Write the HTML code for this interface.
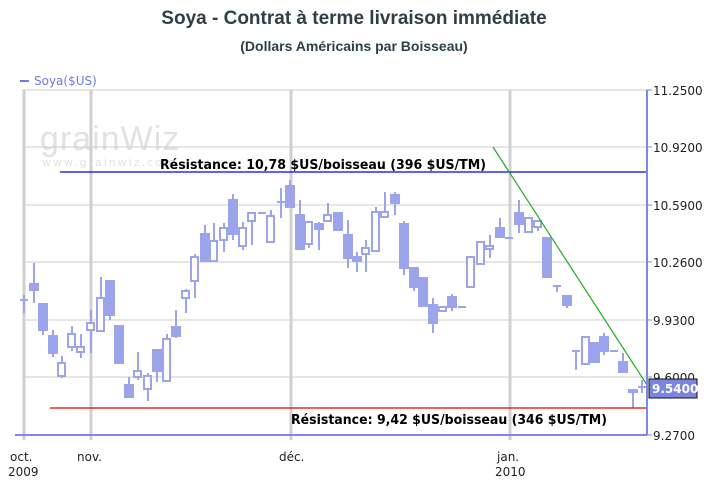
<!DOCTYPE html>
<html><head><meta charset="utf-8"><style>
body{margin:0;background:#fff}
svg{display:block}
</style></head><body>
<svg width="709" height="497" viewBox="0 0 709 497" xmlns="http://www.w3.org/2000/svg" font-family="'DejaVu Sans', 'Liberation Sans', sans-serif">
<text x="354" y="24" text-anchor="middle" font-family="'Liberation Sans',sans-serif" font-weight="bold" font-size="19" fill="#2f3f4a">Soya - Contrat à terme livraison immédiate</text>
<text x="354" y="51" text-anchor="middle" font-family="'Liberation Sans',sans-serif" font-weight="bold" font-size="14" fill="#2f3f4a">(Dollars Américains par Boisseau)</text>
<line x1="20" y1="81" x2="29" y2="81" stroke="#6b7be6" stroke-width="2"/>
<text x="34" y="85" font-size="12" fill="#6b7be6">Soya($US)</text>
<text x="40" y="150" font-size="34" fill="#e2e2e2" font-family="'Liberation Sans',sans-serif" letter-spacing="1">grainWiz</text>
<text x="42" y="166" font-size="11" fill="#e2e2e2" letter-spacing="2">www.grainwiz.com</text>
<g stroke="#cccccc" stroke-width="1">
<line x1="22" y1="90" x2="647" y2="90"/><line x1="22" y1="147" x2="647" y2="147"/>
<line x1="22" y1="205" x2="647" y2="205"/><line x1="22" y1="262" x2="647" y2="262"/>
<line x1="22" y1="320" x2="647" y2="320"/><line x1="22" y1="377" x2="647" y2="377"/>
</g>
<g stroke="#d0d0d0" stroke-width="3">
<line x1="24" y1="90" x2="24" y2="440"/><line x1="91" y1="90" x2="91" y2="440"/>
<line x1="291" y1="90" x2="291" y2="440"/><line x1="510" y1="90" x2="510" y2="440"/>
</g>
<g stroke="#9ca5ec" stroke-width="2" fill="#fff">
<line x1="24" y1="295" x2="24" y2="313"/><line x1="20" y1="300" x2="28" y2="300"/>
<line x1="34" y1="263" x2="34" y2="303"/><rect x="30" y="284" width="8" height="6" fill="#9ca5ec"/>
<line x1="43" y1="304" x2="43" y2="335"/><rect x="39" y="304" width="8" height="26" fill="#9ca5ec"/>
<line x1="53" y1="330" x2="53" y2="357"/><rect x="49" y="336" width="8" height="17" fill="#9ca5ec"/>
<line x1="62" y1="356" x2="62" y2="378"/><rect x="58" y="363" width="7" height="13"/>
<line x1="72" y1="326" x2="72" y2="351"/><rect x="68" y="334" width="7" height="13"/>
<line x1="81" y1="334" x2="81" y2="358"/><rect x="77" y="347" width="7" height="5"/>
<line x1="91" y1="310" x2="91" y2="353"/><rect x="87" y="323" width="7" height="7"/>
<line x1="101" y1="277" x2="101" y2="331"/><rect x="97" y="298" width="7" height="33"/>
<line x1="110" y1="281" x2="110" y2="320"/><rect x="106" y="281" width="8" height="34" fill="#9ca5ec"/>
<rect x="115" y="326" width="8" height="37" fill="#9ca5ec"/>
<line x1="129" y1="377" x2="129" y2="397"/><rect x="125" y="385" width="8" height="12" fill="#9ca5ec"/>
<line x1="138" y1="352" x2="138" y2="380"/><rect x="134" y="371" width="7" height="6"/>
<line x1="148" y1="373" x2="148" y2="401"/><rect x="144" y="376" width="7" height="13"/>
<line x1="157" y1="350" x2="157" y2="382"/><rect x="153" y="350" width="8" height="21" fill="#9ca5ec"/>
<line x1="167" y1="334" x2="167" y2="381"/><rect x="163" y="339" width="7" height="42"/>
<line x1="176" y1="310" x2="176" y2="338"/><rect x="172" y="327" width="8" height="9" fill="#9ca5ec"/>
<line x1="186" y1="289" x2="186" y2="313"/><rect x="182" y="291" width="7" height="7"/>
<line x1="195" y1="254" x2="195" y2="298"/><rect x="191" y="257" width="7" height="24"/>
<line x1="205" y1="225" x2="205" y2="261"/><rect x="201" y="234" width="8" height="27" fill="#9ca5ec"/>
<line x1="214" y1="223" x2="214" y2="261"/><rect x="210" y="241" width="7" height="20"/>
<line x1="224" y1="223" x2="224" y2="252"/><rect x="220" y="228" width="7" height="12"/>
<line x1="233" y1="194" x2="233" y2="240"/><rect x="229" y="200" width="8" height="34" fill="#9ca5ec"/>
<line x1="243" y1="222" x2="243" y2="250"/><rect x="239" y="228" width="7" height="18"/>
<line x1="252" y1="213" x2="252" y2="245"/><rect x="248" y="213" width="7" height="8"/>
<line x1="258" y1="213" x2="266" y2="213"/>
<line x1="271" y1="210" x2="271" y2="242"/><rect x="267" y="216" width="7" height="26"/>
<line x1="281" y1="188" x2="281" y2="218"/><line x1="277" y1="202" x2="285" y2="202"/>
<line x1="290" y1="180" x2="290" y2="207"/><rect x="286" y="186" width="8" height="21" fill="#9ca5ec"/>
<line x1="300" y1="200" x2="300" y2="249"/><rect x="296" y="215" width="8" height="34" fill="#9ca5ec"/>
<line x1="309" y1="222" x2="309" y2="248"/><rect x="305" y="222" width="7" height="22"/>
<line x1="319" y1="222" x2="319" y2="250"/><rect x="315" y="224" width="8" height="5" fill="#9ca5ec"/>
<line x1="328" y1="203" x2="328" y2="221"/><rect x="324" y="215" width="7" height="6"/>
<rect x="334" y="213" width="8" height="17" fill="#9ca5ec"/>
<line x1="348" y1="220" x2="348" y2="268"/><rect x="344" y="235" width="8" height="23" fill="#9ca5ec"/>
<line x1="357" y1="252" x2="357" y2="272"/><rect x="353" y="257" width="8" height="4" fill="#9ca5ec"/>
<line x1="366" y1="240" x2="366" y2="272"/><rect x="362" y="248" width="7" height="6"/>
<line x1="376" y1="207" x2="376" y2="251"/><rect x="372" y="212" width="7" height="39"/>
<line x1="385" y1="192" x2="385" y2="217"/><rect x="381" y="212" width="7" height="5"/>
<line x1="395" y1="192" x2="395" y2="215"/><rect x="391" y="195" width="8" height="8" fill="#9ca5ec"/>
<line x1="404" y1="221" x2="404" y2="275"/><rect x="400" y="224" width="8" height="44" fill="#9ca5ec"/>
<line x1="414" y1="268" x2="414" y2="291"/><rect x="410" y="268" width="8" height="19" fill="#9ca5ec"/>
<rect x="419" y="278" width="8" height="28" fill="#9ca5ec"/>
<line x1="433" y1="298" x2="433" y2="333"/><rect x="429" y="305" width="8" height="18" fill="#9ca5ec"/>
<rect x="439" y="307" width="7" height="4"/>
<line x1="452" y1="294" x2="452" y2="311"/><rect x="448" y="297" width="8" height="10" fill="#9ca5ec"/>
<line x1="458" y1="307" x2="466" y2="307"/>
<rect x="467" y="257" width="7" height="30"/>
<rect x="477" y="242" width="7" height="22"/>
<line x1="490" y1="235" x2="490" y2="258"/><rect x="486" y="246" width="7" height="3"/>
<line x1="500" y1="218" x2="500" y2="237"/><rect x="496" y="228" width="8" height="9" fill="#9ca5ec"/>
<line x1="505" y1="238" x2="513" y2="238"/>
<line x1="519" y1="200" x2="519" y2="233"/><rect x="515" y="213" width="8" height="11" fill="#9ca5ec"/>
<rect x="525" y="218" width="7" height="14"/>
<line x1="538" y1="221" x2="538" y2="231"/><rect x="534" y="221" width="7" height="6"/>
<rect x="543" y="238" width="8" height="39" fill="#9ca5ec"/>
<line x1="557" y1="285" x2="557" y2="292"/><line x1="553" y1="286" x2="561" y2="286"/>
<line x1="567" y1="296" x2="567" y2="308"/><rect x="563" y="296" width="8" height="9" fill="#9ca5ec"/>
<line x1="576" y1="351" x2="576" y2="370"/><line x1="572" y1="351" x2="580" y2="351"/>
<rect x="582" y="337" width="7" height="27"/>
<rect x="591" y="343" width="8" height="19" fill="#9ca5ec"/>
<line x1="604" y1="333" x2="604" y2="355"/><rect x="600" y="337" width="8" height="14" fill="#9ca5ec"/>
<line x1="610" y1="351" x2="618" y2="351"/>
<line x1="623" y1="353" x2="623" y2="372"/><rect x="619" y="362" width="8" height="10" fill="#9ca5ec"/>
<line x1="633" y1="390" x2="633" y2="408"/><rect x="629" y="390" width="8" height="2" fill="#9ca5ec"/>
<line x1="642" y1="380" x2="642" y2="393"/><line x1="638" y1="387" x2="646" y2="387"/>
</g>
<line x1="60" y1="172" x2="647" y2="172" stroke="#0000ee" stroke-width="1.2"/>
<line x1="50" y1="408" x2="647" y2="408" stroke="#ee0000" stroke-width="1.2"/>
<line x1="493" y1="147" x2="647" y2="385" stroke="#22aa22" stroke-width="1.2"/>
<text x="160" y="169" font-family="'DejaVu Sans',sans-serif" font-weight="bold" font-size="13" fill="#000" textLength="326" lengthAdjust="spacingAndGlyphs">Résistance: 10,78 $US/boisseau (396 $US/TM)</text>
<text x="291" y="424" font-family="'DejaVu Sans',sans-serif" font-weight="bold" font-size="13" fill="#000" textLength="316" lengthAdjust="spacingAndGlyphs">Résistance: 9,42 $US/boisseau (346 $US/TM)</text>
<line x1="15" y1="435" x2="647" y2="435" stroke="#7b8ae8" stroke-width="2"/>
<line x1="647" y1="90" x2="647" y2="435" stroke="#7b8ae8" stroke-width="2"/>
<g stroke="#7b8ae8" stroke-width="1">
<line x1="647" y1="90" x2="652" y2="90"/><line x1="647" y1="147" x2="652" y2="147"/><line x1="647" y1="205" x2="652" y2="205"/><line x1="647" y1="262" x2="652" y2="262"/><line x1="647" y1="320" x2="652" y2="320"/><line x1="647" y1="377" x2="652" y2="377"/><line x1="647" y1="435" x2="652" y2="435"/>
</g>
<g font-size="12" fill="#222">
<text x="653" y="95">11.2500</text><text x="653" y="152">10.9200</text><text x="653" y="210">10.5900</text><text x="653" y="267">10.2600</text><text x="653" y="325">9.9300</text><text x="653" y="382">9.6000</text><text x="653" y="440">9.2700</text>
</g>
<rect x="649" y="379" width="48" height="19" fill="#7b85e0" stroke="#111" stroke-width="1"/>
<text x="652" y="393" font-size="12" font-weight="bold" fill="#fff">9.5400</text>
<g font-size="12" fill="#222">
<text x="10" y="461">oct.</text><text x="8" y="476">2009</text>
<text x="77" y="461">nov.</text><text x="279" y="461">déc.</text>
<text x="497" y="461">jan.</text><text x="495" y="476">2010</text>
</g>
</svg>
</body></html>
